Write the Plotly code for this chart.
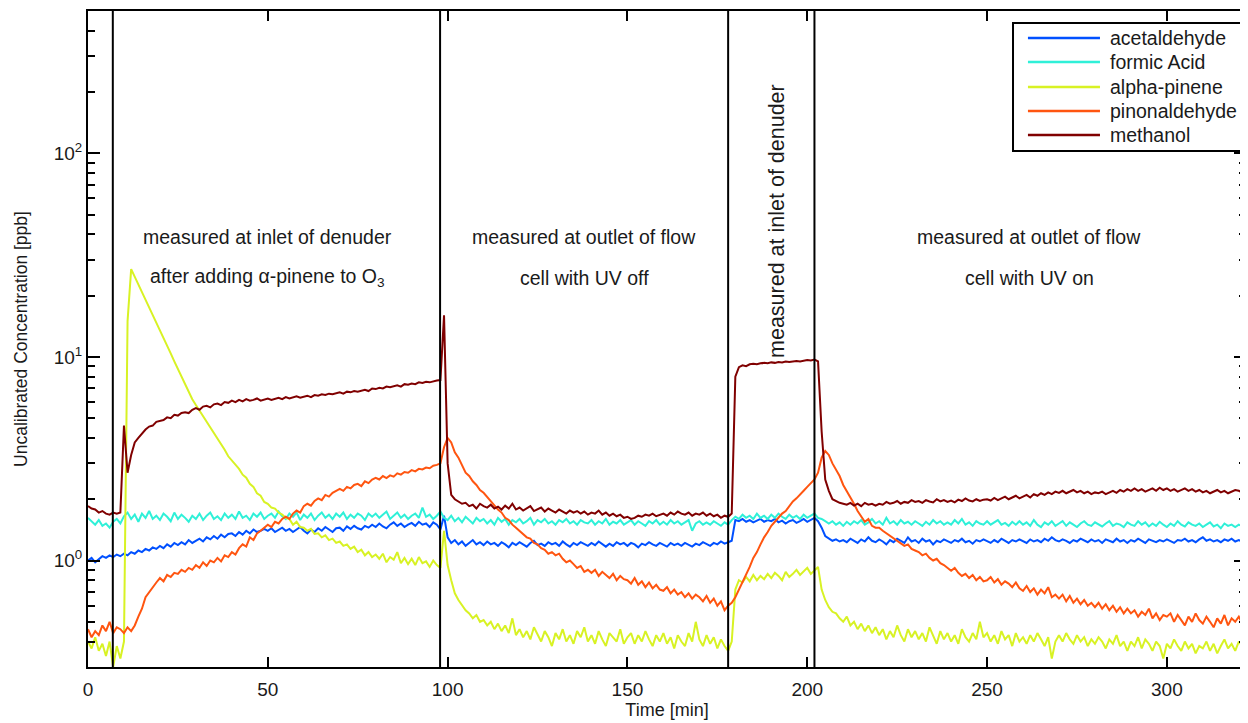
import plotly.graph_objects as go

# ---- data, 1-minute samples ----
time_min = list(range(323))

methanol = [
    1.85, 1.8, 1.78, 1.72, 1.75, 1.7, 1.68, 1.72, 1.7, 1.72,
    4.6, 2.7, 3.3, 3.8, 4.0, 4.2, 4.4, 4.55, 4.6, 4.8,
    4.85, 4.9, 5.05, 5.0, 5.2, 5.15, 5.3, 5.35, 5.3, 5.5,
    5.6, 5.5, 5.7, 5.75, 5.65, 5.85, 5.9, 5.8, 6.0, 5.95,
    6.1, 6.0, 6.15, 6.05, 6.2, 6.1, 6.15, 6.25, 6.1, 6.2,
    6.25, 6.15, 6.2, 6.3, 6.2, 6.35, 6.25, 6.3, 6.4, 6.3,
    6.4, 6.45, 6.35, 6.5, 6.45, 6.55, 6.5, 6.6, 6.55, 6.65,
    6.7, 6.6, 6.75, 6.7, 6.8, 6.75, 6.85, 6.9, 6.8, 7.0,
    6.95, 7.05, 7.0, 7.15, 7.1, 7.2, 7.25, 7.15, 7.35, 7.3,
    7.4, 7.35, 7.5, 7.45, 7.55, 7.5, 7.6, 7.65, 7.7, 16.0,
    3.0, 2.1, 2.0, 1.95, 1.9, 1.92, 1.85, 1.88, 1.8, 1.9,
    1.85, 1.82, 1.88, 1.8, 1.84, 1.78, 1.86, 1.8, 1.9, 1.78,
    1.82, 1.76, 1.8, 1.85, 1.75, 1.78, 1.82, 1.74, 1.8, 1.76,
    1.72, 1.78, 1.74, 1.7, 1.76, 1.72, 1.75, 1.7, 1.74, 1.68,
    1.72, 1.7, 1.76, 1.68, 1.72, 1.66, 1.7, 1.65, 1.68, 1.62,
    1.64, 1.6, 1.62, 1.66, 1.64, 1.68, 1.66, 1.7, 1.65, 1.68,
    1.7, 1.66, 1.72, 1.68, 1.74, 1.7, 1.68, 1.72, 1.66, 1.7,
    1.68, 1.72, 1.66, 1.7, 1.65, 1.68, 1.62, 1.66, 1.64, 1.7,
    8.0, 8.9, 9.1, 9.0, 9.2, 9.25, 9.2, 9.3, 9.35, 9.3,
    9.4, 9.35, 9.45, 9.4, 9.5, 9.45, 9.5, 9.55, 9.5, 9.6,
    9.65, 9.6, 9.7, 9.5, 4.3, 2.5, 2.2, 2.0, 1.95, 1.92,
    1.9, 1.88, 1.92, 1.86, 1.9, 1.85, 1.92, 1.88, 1.9, 1.86,
    1.9, 1.88, 1.94, 1.9, 1.92, 1.96, 1.9, 1.94, 1.92, 1.98,
    1.94, 1.96, 1.92, 1.98, 1.95, 1.93, 2.0, 1.95, 1.98, 1.94,
    1.97, 1.93, 1.99, 1.96, 2.02, 1.97, 1.95, 2.0, 1.96, 1.99,
    2.0, 1.97, 2.03, 1.98, 2.02, 2.06, 2.0, 2.04, 2.08, 2.02,
    2.06, 2.1, 2.04, 2.12, 2.08, 2.14, 2.1, 2.16, 2.12, 2.18,
    2.15, 2.2, 2.14, 2.18, 2.22, 2.16, 2.2, 2.14, 2.18, 2.12,
    2.16, 2.14, 2.18, 2.12, 2.16, 2.2, 2.15, 2.22, 2.18, 2.24,
    2.2, 2.26, 2.2, 2.24, 2.18, 2.22, 2.26, 2.2, 2.28, 2.22,
    2.26, 2.2, 2.24, 2.18, 2.22, 2.26, 2.2, 2.24, 2.18, 2.22,
    2.16, 2.2, 2.14, 2.18, 2.22, 2.16, 2.2, 2.14, 2.18, 2.22,
    2.2, 2.16, 2.22,
]

formic_acid = [
    1.62, 1.55, 1.5, 1.58, 1.48, 1.52, 1.45, 1.55, 1.6, 1.52,
    1.65, 1.72, 1.6, 1.68, 1.55, 1.7, 1.62, 1.75, 1.6, 1.66,
    1.58, 1.7, 1.64, 1.56, 1.72, 1.6, 1.68, 1.62, 1.55, 1.66,
    1.6, 1.7, 1.58, 1.66, 1.72, 1.6, 1.65, 1.58, 1.7, 1.62,
    1.68, 1.6, 1.74, 1.62, 1.66, 1.58, 1.7, 1.64, 1.72, 1.6,
    1.66, 1.7, 1.62, 1.74, 1.65, 1.6, 1.7, 1.64, 1.72, 1.58,
    1.68, 1.62, 1.7, 1.58, 1.66, 1.72, 1.62, 1.68, 1.6, 1.7,
    1.64, 1.72, 1.6, 1.68, 1.62, 1.7, 1.66, 1.58, 1.7, 1.64,
    1.7, 1.62, 1.68, 1.74, 1.6, 1.66, 1.72, 1.62, 1.68, 1.6,
    1.66, 1.7, 1.62, 1.82, 1.64, 1.68, 1.6, 1.66, 1.74, 1.62,
    1.58, 1.66, 1.56, 1.62, 1.54, 1.64, 1.58, 1.52, 1.62, 1.56,
    1.6, 1.52, 1.58, 1.5, 1.62, 1.55, 1.6, 1.5, 1.58, 1.54,
    1.6, 1.52, 1.56, 1.62, 1.5, 1.58, 1.54, 1.6, 1.52, 1.56,
    1.5, 1.58, 1.54, 1.6, 1.52, 1.56, 1.5, 1.58, 1.54, 1.52,
    1.58, 1.5, 1.56, 1.52, 1.6, 1.5, 1.55, 1.52, 1.58, 1.5,
    1.54, 1.58, 1.5, 1.56, 1.52, 1.48, 1.56, 1.52, 1.58, 1.5,
    1.55, 1.5, 1.58, 1.52, 1.56, 1.5, 1.54, 1.58, 1.4, 1.52,
    1.56, 1.5, 1.54, 1.5, 1.56, 1.52, 1.48, 1.54, 1.5, 1.58,
    1.64, 1.6, 1.68, 1.62, 1.66, 1.6, 1.7, 1.62, 1.66, 1.6,
    1.68, 1.62, 1.7, 1.64, 1.6, 1.68, 1.62, 1.66, 1.6, 1.68,
    1.62, 1.66, 1.7, 1.62, 1.6, 1.56, 1.52, 1.56, 1.5, 1.54,
    1.48, 1.55, 1.5, 1.56, 1.52, 1.58, 1.5, 1.54, 1.6, 1.52,
    1.56, 1.5, 1.62, 1.52, 1.56, 1.5, 1.58, 1.52, 1.55, 1.5,
    1.56, 1.52, 1.48, 1.55, 1.5, 1.58, 1.52, 1.56, 1.5, 1.54,
    1.5, 1.58, 1.52, 1.6, 1.5, 1.54, 1.48, 1.56, 1.52, 1.5,
    1.56, 1.5, 1.54, 1.58, 1.5, 1.53, 1.48, 1.55, 1.5, 1.56,
    1.5, 1.54, 1.48, 1.58, 1.5, 1.46, 1.54, 1.5, 1.56, 1.48,
    1.52, 1.56, 1.48, 1.54, 1.5, 1.46, 1.52, 1.56, 1.5, 1.48,
    1.54, 1.5, 1.47, 1.52, 1.56, 1.48, 1.52, 1.5, 1.46, 1.54,
    1.5, 1.48, 1.56, 1.5, 1.54, 1.47, 1.52, 1.48, 1.55, 1.5,
    1.46, 1.52, 1.48, 1.56, 1.5, 1.47, 1.54, 1.5, 1.48, 1.52,
    1.46, 1.5, 1.54, 1.47, 1.5, 1.44, 1.52, 1.48, 1.5, 1.46,
    1.5, 1.47, 1.52,
]

acetaldehyde = [
    1.0, 1.03, 0.98, 1.02, 1.05, 1.03, 1.06, 1.04, 1.07, 1.05,
    1.08, 1.06, 1.1, 1.08, 1.12, 1.1, 1.14, 1.12, 1.16, 1.14,
    1.18, 1.15, 1.2, 1.17, 1.22, 1.19, 1.23, 1.2, 1.26, 1.22,
    1.25, 1.28, 1.24, 1.3, 1.27, 1.32, 1.28, 1.34, 1.3, 1.35,
    1.36, 1.32, 1.38, 1.34, 1.4, 1.36, 1.42, 1.38, 1.4, 1.43,
    1.4, 1.44, 1.38, 1.42, 1.45, 1.4, 1.43, 1.38, 1.42, 1.46,
    1.4, 1.36, 1.42, 1.38, 1.44, 1.4, 1.46, 1.42, 1.38, 1.44,
    1.45, 1.4, 1.47, 1.43, 1.48, 1.44, 1.42, 1.48, 1.45, 1.5,
    1.46, 1.52, 1.47, 1.44, 1.5, 1.54, 1.48, 1.52, 1.46, 1.5,
    1.53, 1.48, 1.55, 1.5, 1.52, 1.46, 1.54, 1.5, 1.42, 1.66,
    1.3, 1.22, 1.26, 1.2, 1.24, 1.18, 1.22, 1.26, 1.2, 1.23,
    1.19, 1.24, 1.2, 1.22, 1.18, 1.23, 1.2, 1.16, 1.22, 1.19,
    1.23, 1.2, 1.17, 1.22, 1.25, 1.19, 1.21, 1.18, 1.23, 1.2,
    1.22, 1.18, 1.24, 1.2, 1.17, 1.22, 1.19, 1.23, 1.2, 1.18,
    1.22, 1.19, 1.24, 1.2, 1.17, 1.21, 1.18, 1.23, 1.2, 1.22,
    1.18, 1.22, 1.2, 1.16, 1.21, 1.19, 1.23, 1.2, 1.18, 1.22,
    1.2, 1.17, 1.22, 1.19, 1.21, 1.18, 1.22, 1.2, 1.17, 1.21,
    1.19, 1.23, 1.2, 1.18, 1.22, 1.2, 1.24, 1.21, 1.23, 1.25,
    1.58, 1.56, 1.6, 1.55, 1.58, 1.54, 1.57, 1.6, 1.55, 1.58,
    1.56, 1.6, 1.54, 1.57, 1.52, 1.56, 1.58, 1.53, 1.56, 1.6,
    1.55, 1.58, 1.62, 1.56, 1.45, 1.32, 1.28, 1.25, 1.27, 1.24,
    1.26, 1.23, 1.28, 1.25, 1.22, 1.27, 1.24, 1.3, 1.25, 1.23,
    1.27, 1.24, 1.2, 1.26, 1.23, 1.28, 1.25, 1.22, 1.3, 1.24,
    1.26, 1.22, 1.28, 1.24, 1.26, 1.2, 1.25, 1.23, 1.27, 1.24,
    1.22, 1.26, 1.24, 1.28, 1.23, 1.25, 1.21, 1.26, 1.24, 1.27,
    1.24, 1.22, 1.26, 1.23, 1.28, 1.25, 1.22, 1.26, 1.24, 1.27,
    1.25, 1.22, 1.27, 1.24, 1.26, 1.23, 1.28, 1.25, 1.3, 1.26,
    1.24, 1.27, 1.25, 1.22, 1.26, 1.24, 1.28, 1.25, 1.23, 1.27,
    1.24, 1.26, 1.22, 1.27, 1.25, 1.23, 1.28, 1.24, 1.26, 1.22,
    1.26, 1.24, 1.28, 1.25, 1.22, 1.27, 1.25, 1.23, 1.26, 1.24,
    1.27, 1.24, 1.22, 1.26, 1.25, 1.28, 1.24, 1.26, 1.23, 1.27,
    1.3, 1.25, 1.27, 1.24, 1.26, 1.23, 1.27, 1.25, 1.28, 1.24,
    1.26, 1.24, 1.27,
]

alpha_pinene = [
    0.4, 0.37, 0.42, 0.36, 0.39, 0.34, 0.4, 0.3, 0.38, 0.33,
    0.4, 15.0, 27.0, 24.8, 22.7, 20.8, 19.1, 17.5, 16.0, 14.7,
    13.5, 12.4, 11.3, 10.4, 9.5, 8.7, 8.0, 7.3, 6.7, 6.2,
    5.8, 5.45, 5.1, 4.8, 4.5, 4.2, 3.95, 3.7, 3.5, 3.25,
    3.1, 2.92, 2.82, 2.64, 2.55, 2.38, 2.3, 2.14, 2.08, 1.94,
    1.9, 1.82, 1.8, 1.72, 1.68, 1.62, 1.6, 1.5, 1.55, 1.46,
    1.45, 1.4, 1.43, 1.35, 1.36, 1.3, 1.33, 1.26, 1.28, 1.22,
    1.24, 1.18, 1.2, 1.14, 1.17, 1.1, 1.13, 1.06, 1.1, 1.04,
    1.07, 1.02, 1.08, 0.98, 1.04, 1.01, 1.1, 0.97, 1.03, 0.96,
    1.02, 0.95, 1.04, 0.97, 0.99, 0.93, 1.0, 0.95, 0.92, 1.4,
    0.95, 0.8, 0.69, 0.64, 0.6, 0.57, 0.55, 0.52, 0.54, 0.5,
    0.51, 0.48, 0.5, 0.46, 0.49, 0.45, 0.48, 0.44, 0.52, 0.43,
    0.46, 0.42, 0.45, 0.41, 0.47, 0.43, 0.4, 0.45, 0.42, 0.38,
    0.44, 0.41, 0.46, 0.4, 0.43, 0.39, 0.45, 0.42, 0.47, 0.4,
    0.43, 0.39, 0.45, 0.41, 0.38, 0.44, 0.42, 0.4, 0.46, 0.39,
    0.42, 0.44, 0.39, 0.43, 0.4, 0.45, 0.41, 0.38, 0.43, 0.4,
    0.44, 0.39, 0.42, 0.37, 0.43, 0.4, 0.38, 0.44, 0.4, 0.5,
    0.41, 0.38, 0.43, 0.39, 0.42, 0.37, 0.41, 0.38, 0.36, 0.4,
    0.72, 0.8, 0.78, 0.83, 0.79, 0.85, 0.8, 0.84, 0.81, 0.86,
    0.82, 0.87, 0.84, 0.8, 0.88, 0.83, 0.86, 0.9, 0.85, 0.88,
    0.92, 0.86, 0.9, 0.93, 0.72, 0.64, 0.59, 0.56, 0.55, 0.52,
    0.5, 0.53, 0.48, 0.5, 0.46, 0.49, 0.45, 0.48, 0.44, 0.47,
    0.43, 0.46, 0.41, 0.45, 0.42, 0.48, 0.43, 0.4, 0.46, 0.42,
    0.45, 0.41, 0.44, 0.4, 0.47, 0.43, 0.39, 0.45, 0.41, 0.44,
    0.4, 0.43, 0.39, 0.46, 0.42, 0.4, 0.44, 0.41, 0.5, 0.42,
    0.44, 0.4, 0.43, 0.39, 0.45, 0.41, 0.43, 0.38, 0.44, 0.4,
    0.42, 0.39, 0.43, 0.4, 0.44, 0.41, 0.38, 0.42, 0.33, 0.4,
    0.43, 0.4, 0.44, 0.41, 0.39, 0.43, 0.4, 0.42, 0.38, 0.41,
    0.39, 0.42, 0.4, 0.37, 0.41, 0.39, 0.43, 0.38, 0.4, 0.36,
    0.4, 0.38, 0.42, 0.37, 0.41, 0.39, 0.36, 0.4, 0.38, 0.33,
    0.39, 0.37, 0.41, 0.38, 0.36, 0.4, 0.37, 0.39, 0.35, 0.38,
    0.37, 0.4, 0.36, 0.39, 0.35, 0.38, 0.41, 0.37, 0.39, 0.36,
    0.4, 0.38, 0.41,
]

pinonaldehyde = [
    0.46, 0.42, 0.45, 0.43, 0.48, 0.45, 0.5, 0.44, 0.47, 0.46,
    0.44, 0.47, 0.45, 0.48, 0.53, 0.58, 0.66, 0.7, 0.74, 0.78,
    0.82, 0.79, 0.85, 0.83, 0.87, 0.86, 0.9, 0.88, 0.92, 0.9,
    0.95, 0.92, 0.98, 0.94, 1.0, 0.98, 1.03, 0.99, 1.06, 1.04,
    1.1, 1.07, 1.15, 1.2, 1.17, 1.3, 1.26, 1.36, 1.4, 1.45,
    1.5, 1.46, 1.55, 1.52, 1.6, 1.64, 1.6, 1.7, 1.76, 1.72,
    1.85, 1.9, 1.86, 1.96, 2.02, 1.98, 2.1, 2.06, 2.15, 2.2,
    2.25, 2.2, 2.3, 2.26, 2.35, 2.38, 2.32, 2.45, 2.4, 2.5,
    2.55, 2.5, 2.6, 2.54, 2.62, 2.58, 2.68, 2.64, 2.72, 2.7,
    2.78, 2.74, 2.82, 2.8, 2.86, 2.84, 2.92, 2.95, 3.0, 3.6,
    4.0, 3.8, 3.4, 3.2, 2.95, 2.7, 2.6, 2.45, 2.35, 2.22,
    2.15, 2.05, 1.95, 1.88, 1.78, 1.72, 1.62, 1.58, 1.5, 1.45,
    1.4, 1.36, 1.3, 1.28, 1.22, 1.2, 1.15, 1.13, 1.08, 1.1,
    1.06, 1.08, 1.02, 0.98, 1.0, 0.96, 0.92, 0.94, 0.88, 0.9,
    0.87, 0.9, 0.84, 0.88, 0.85, 0.82, 0.86, 0.8, 0.84, 0.81,
    0.8, 0.77, 0.82, 0.76, 0.79, 0.74, 0.78, 0.73, 0.76, 0.72,
    0.71, 0.74, 0.69, 0.72, 0.68, 0.7, 0.66, 0.69, 0.65, 0.68,
    0.66, 0.63, 0.67, 0.62, 0.65, 0.6, 0.63, 0.57, 0.6, 0.62,
    0.66, 0.72, 0.77, 0.85, 0.93, 1.03, 1.1, 1.2, 1.3, 1.38,
    1.48, 1.55, 1.62, 1.7, 1.75, 1.84, 1.95, 2.02, 2.1, 2.2,
    2.3, 2.4, 2.5, 2.7, 3.2, 3.45, 3.3, 3.0, 2.8, 2.6,
    2.35, 2.2, 2.05, 1.9, 1.75, 1.65, 1.55, 1.6, 1.48, 1.45,
    1.45, 1.4, 1.36, 1.32, 1.28, 1.25, 1.22, 1.18, 1.2, 1.14,
    1.12, 1.1, 1.06, 1.08, 1.03, 1.0, 1.02, 0.97, 0.95, 0.92,
    0.89, 0.92, 0.87, 0.84, 0.86, 0.82, 0.85, 0.8, 0.83, 0.79,
    0.8, 0.83, 0.78, 0.81, 0.76, 0.79, 0.77, 0.74, 0.78, 0.73,
    0.71, 0.75, 0.7, 0.73, 0.68, 0.72, 0.69, 0.74, 0.66, 0.68,
    0.65, 0.68, 0.63, 0.67, 0.62, 0.65, 0.61, 0.64, 0.6, 0.62,
    0.59, 0.62, 0.58, 0.61, 0.57, 0.6, 0.56, 0.59, 0.55, 0.58,
    0.55, 0.57, 0.53, 0.56, 0.54, 0.58, 0.52, 0.55, 0.51, 0.54,
    0.53, 0.55, 0.5, 0.54, 0.51, 0.48, 0.53, 0.5, 0.55, 0.51,
    0.49, 0.53, 0.5, 0.47, 0.52, 0.49, 0.54, 0.48, 0.52, 0.5,
    0.53, 0.49, 0.52,
]

series_names = ["acetaldehyde", "formic Acid", "alpha-pinene", "pinonaldehyde", "methanol"]
series_values = [acetaldehyde, formic_acid, alpha_pinene, pinonaldehyde, methanol]
series_colors = ["#0050ff", "#2ff0d8", "#d8f224", "#ff5510", "#800000"]

# sampling-location change times [min]
switch_times = [6.9, 97.9, 178.0, 202.0]

x_ticks = [0, 50, 100, 150, 200, 250, 300]
y_major = [1, 10, 100]
y_major_text = ["10<sup>0</sup>", "10<sup>1</sup>", "10<sup>2</sup>"]
y_minor = [0.3, 0.4, 0.5, 0.6, 0.7, 0.8, 0.9,
           2, 3, 4, 5, 6, 7, 8, 9,
           20, 30, 40, 50, 60, 70, 80, 90,
           200, 300, 400, 500]

FONT = "Liberation Sans"
TXT = "#1a1a1a"

fig = go.Figure()
for name, vals, col in zip(series_names, series_values, series_colors):
    fig.add_trace(go.Scatter(
        x=time_min[:len(vals)], y=vals, mode="lines", name=name,
        line=dict(color=col, width=2), showlegend=False,
    ))

for t in switch_times:
    fig.add_shape(type="line", xref="x", yref="paper", x0=t, x1=t, y0=0, y1=1,
                  line=dict(color="black", width=2))

labels = [
    (50, 0.655, "measured at inlet of denuder", 0, 19.5),
    (50, 0.593, "after adding \u03b1-pinene to O<sub>3</sub>", 0, 19.5),
    (138, 0.655, "measured at outlet of flow", 0, 19.5),
    (138, 0.593, "cell with UV off", 0, 19.5),
    (261.7, 0.655, "measured at outlet of flow", 0, 19.5),
    (261.7, 0.593, "cell with UV on", 0, 19.5),
    (191.6, 0.680, "measured at inlet of denuder", -90, 21.5),
]
for x, y, txt, ang, sz in labels:
    fig.add_annotation(x=x, y=y, xref="x", yref="paper", text=txt, showarrow=False,
                       textangle=ang, font=dict(family=FONT, size=sz, color=TXT),
                       xanchor="center", yanchor="middle")

# legend box drawn in paper coordinates
fig.add_shape(type="rect", xref="paper", yref="paper", x0=0.7988, x1=0.9991,
              y0=0.7866, y1=0.9817, line=dict(color="black", width=2), fillcolor="white",
              layer="above")
legend_rows = [0.9588, 0.9223, 0.8841, 0.8476, 0.8110]
for name, col, yy in zip(series_names, series_colors, legend_rows):
    fig.add_shape(type="line", xref="paper", yref="paper", x0=0.8117, x1=0.8739,
                  y0=yy, y1=yy, line=dict(color=col, width=2.5), layer="above")
    fig.add_annotation(x=0.8808, y=yy, xref="paper", yref="paper", text=name,
                       showarrow=False, xanchor="left", yanchor="middle",
                       font=dict(family=FONT, size=19.5, color=TXT))

# the page body has an 8px margin, so the figure is 8px smaller and margins shifted
fig.update_layout(
    width=1240, height=715,
    margin=dict(l=80, r=2, t=3, b=56),
    paper_bgcolor="white", plot_bgcolor="white",
    font=dict(family=FONT, size=18, color=TXT),
    showlegend=False,
)
fig.update_xaxes(
    range=[0, 322], tickvals=x_ticks, ticks="inside", ticklen=10, tickwidth=2,
    tickcolor="black", showline=True, linecolor="black", linewidth=2, mirror="ticks",
    showgrid=False, zeroline=False, automargin=False, ticklabelstandoff=4,
    tickfont=dict(family=FONT, size=19, color=TXT),
    title=dict(text="Time [min]", font=dict(family=FONT, size=18, color=TXT), standoff=5),
)
fig.update_yaxes(
    type="log", range=[-0.523, 2.699], tickvals=y_major, ticktext=y_major_text,
    ticks="inside", ticklen=12, tickwidth=2, tickcolor="black",
    minor=dict(tickvals=y_minor, ticks="inside", ticklen=7, tickwidth=2, tickcolor="black", showgrid=False),
    showline=True, linecolor="black", linewidth=2, mirror="ticks",
    showgrid=False, zeroline=False, automargin=False,
    tickfont=dict(family=FONT, size=19, color=TXT),
    title=dict(text="Uncalibrated Concentration [ppb]", font=dict(family=FONT, size=17.5, color=TXT), standoff=22),
)

fig.write_html("out.html")
